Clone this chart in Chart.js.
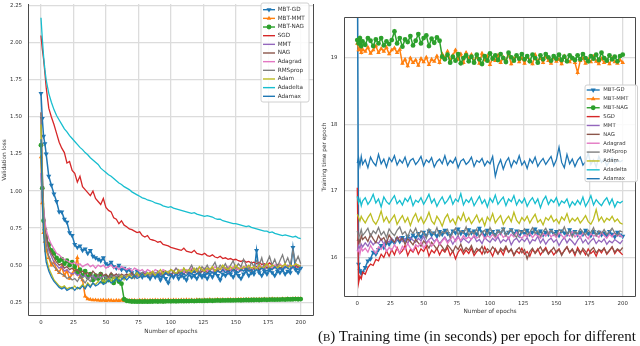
<!DOCTYPE html>
<html><head><meta charset="utf-8">
<script src="https://cdn.jsdelivr.net/npm/chart.js@4.4.1/dist/chart.umd.min.js"></script>
<style>
html,body{margin:0;padding:0;background:#fff;}
#wrap{position:relative;width:640px;height:346px;overflow:hidden;background:#fff;}
#c1{position:absolute;left:0;top:0;width:320px;height:346px;}
#c2{position:absolute;left:320px;top:0;width:320px;height:346px;}
#cap{position:absolute;left:318px;top:329px;font-family:"Liberation Serif",serif;font-size:15px;line-height:15px;white-space:nowrap;color:#111;}
#cap .sc{font-size:11px;}
</style></head><body>
<div id="wrap">
<canvas id="c1" width="320" height="346"></canvas>
<canvas id="c2" width="320" height="346"></canvas>
<div id="cap">(<span class="sc">B</span>) Training time (in seconds) per epoch for different</div>
</div>
<script>
// ---------- data ----------
const epochs = [0,1,2,3,4,6,8,10,12,14,16,18,20,22,24,26,28,30,32,34,36,38,40,42,44,46,48,50,52,54,56,58,60,62,64,66,68,70,72,74,76,78,80,82,84,86,88,90,92,94,96,98,100,102,104,106,108,110,112,114,116,118,120,122,124,126,128,130,132,134,136,138,140,142,144,146,148,150,152,154,156,158,160,162,164,166,168,170,172,174,176,178,180,182,184,186,188,190,192,194,196,198,200];
const seriesNames = ['MBT-GD','MBT-MMT','MBT-NAG','SGD','MMT','NAG','Adagrad','RMSprop','Adam','Adadelta','Adamax'];
const xTickValues = [0,25,50,75,100,125,150,175,200];
const lossTickValues = [0.25,0.5,0.75,1.0,1.25,1.5,1.75,2.0,2.25];
const timeTickValues = [16,17,18,19];

// validation loss (left panel)
const lossMbtGd = [1.66,1.49,1.37,1.32,1.25,
1.10,1.04,0.98,0.93,0.86,0.86,0.81,0.79,0.72,0.70,
0.64,0.62,0.63,0.60,0.61,0.58,0.60,0.56,0.55,0.54,
0.53,0.55,0.51,0.50,0.52,0.49,0.48,0.50,0.47,0.48,
0.46,0.47,0.45,0.43,0.46,0.44,0.42,0.45,0.43,0.41,
0.44,0.42,0.43,0.40,0.43,0.41,0.38,0.43,0.42,0.44,
0.41,0.43,0.42,0.40,0.44,0.42,0.43,0.41,0.44,0.42,
0.43,0.41,0.44,0.42,0.45,0.43,0.40,0.44,0.43,0.45,
0.44,0.42,0.45,0.43,0.41,0.44,0.46,0.43,0.45,0.44,
0.60,0.45,0.43,0.46,0.44,0.47,0.45,0.43,0.46,0.45,
0.47,0.44,0.46,0.45,0.62,0.47,0.45,0.48];
const lossMbtMmt = [1.23,0.92,0.72,0.66,0.60,
0.55,0.50,0.52,0.47,0.45,0.49,0.43,0.46,0.41,0.44,
0.48,0.55,0.42,0.40,0.29,0.272,0.268,0.265,0.265,0.263,
0.262,0.264,0.261,0.263,0.262,0.260,0.262,0.261,0.263,0.260,
0.262,0.261,0.263,0.262,0.260,0.263,0.262,0.264,0.261,0.263,
0.262,0.264,0.263,0.262,0.265,0.263,0.264,0.262,0.265,0.264,
0.263,0.265,0.264,0.266,0.264,0.265,0.263,0.266,0.265,0.264,
0.266,0.265,0.267,0.265,0.266,0.268,0.266,0.267,0.265,0.268,
0.267,0.266,0.268,0.267,0.269,0.267,0.268,0.270,0.268,0.269,
0.268,0.270,0.269,0.271,0.269,0.270,0.272,0.270,0.271,0.270,
0.272,0.271,0.273,0.271,0.272,0.274,0.272,0.273];
const lossMbtNag = [1.31,1.02,0.80,0.74,0.69,
0.64,0.60,0.58,0.55,0.53,0.54,0.51,0.53,0.50,0.52,
0.49,0.45,0.47,0.43,0.46,0.42,0.44,0.40,0.43,0.41,
0.44,0.39,0.42,0.40,0.43,0.38,0.41,0.39,0.375,0.27,
0.260,0.257,0.255,0.255,0.254,0.255,0.254,0.255,0.254,0.255,
0.255,0.256,0.255,0.256,0.255,0.256,0.257,0.256,0.257,0.256,
0.257,0.258,0.257,0.258,0.258,0.259,0.258,0.259,0.260,0.259,
0.260,0.260,0.261,0.260,0.261,0.262,0.261,0.262,0.262,0.263,
0.262,0.263,0.263,0.264,0.263,0.264,0.265,0.264,0.265,0.265,
0.266,0.265,0.266,0.267,0.266,0.267,0.268,0.267,0.268,0.268,
0.269,0.268,0.270,0.269,0.270,0.271,0.270,0.271];
const lossSgd = [2.05,1.96,1.89,1.80,1.70,
1.56,1.50,1.45,1.39,1.33,1.29,1.26,1.19,1.20,1.14,
1.12,1.06,1.10,1.03,1.01,0.99,0.97,1.00,0.95,0.93,
0.91,0.95,0.89,0.87,0.86,0.82,0.81,0.78,0.80,0.77,
0.76,0.745,0.74,0.73,0.72,0.725,0.70,0.69,0.70,0.675,
0.67,0.665,0.655,0.66,0.64,0.635,0.63,0.62,0.615,0.61,
0.605,0.60,0.615,0.595,0.59,0.585,0.60,0.58,0.575,0.57,
0.58,0.565,0.56,0.57,0.555,0.55,0.56,0.545,0.55,0.54,
0.545,0.535,0.54,0.53,0.525,0.535,0.52,0.525,0.515,0.52,
0.51,0.52,0.505,0.51,0.50,0.515,0.50,0.495,0.505,0.50,
0.495,0.50,0.49,0.495,0.485,0.49,0.485,0.49];
const lossMmt = [1.12,0.95,0.82,0.74,0.68,
0.60,0.56,0.52,0.50,0.48,0.49,0.46,0.47,0.45,0.44,
0.45,0.43,0.44,0.42,0.43,0.41,0.42,0.43,0.41,0.42,
0.41,0.43,0.42,0.41,0.43,0.42,0.44,0.42,0.43,0.41,
0.43,0.42,0.44,0.43,0.42,0.44,0.43,0.45,0.43,0.44,
0.43,0.45,0.44,0.43,0.45,0.44,0.46,0.44,0.45,0.43,
0.45,0.44,0.46,0.45,0.44,0.46,0.45,0.47,0.45,0.46,
0.45,0.47,0.46,0.45,0.47,0.46,0.48,0.46,0.47,0.45,
0.47,0.46,0.48,0.47,0.46,0.48,0.47,0.49,0.47,0.48,
0.47,0.49,0.48,0.47,0.49,0.48,0.50,0.48,0.49,0.47,
0.49,0.48,0.50,0.49,0.48,0.50,0.49,0.48];
const lossNag = [1.53,1.15,0.90,0.78,0.70,
0.62,0.58,0.55,0.52,0.50,0.51,0.48,0.49,0.47,0.48,
0.46,0.47,0.45,0.46,0.44,0.45,0.43,0.46,0.44,0.43,
0.45,0.43,0.44,0.42,0.45,0.43,0.44,0.42,0.44,0.43,
0.44,0.43,0.45,0.42,0.44,0.43,0.45,0.44,0.43,0.45,
0.44,0.43,0.45,0.44,0.46,0.44,0.45,0.43,0.46,0.44,
0.45,0.46,0.44,0.46,0.45,0.47,0.45,0.46,0.44,0.46,
0.47,0.45,0.46,0.48,0.46,0.47,0.45,0.47,0.48,0.46,
0.47,0.48,0.46,0.48,0.47,0.49,0.47,0.48,0.46,0.48,
0.49,0.47,0.48,0.50,0.48,0.49,0.47,0.49,0.50,0.48,
0.49,0.50,0.48,0.50,0.49,0.51,0.49,0.50];
const lossAdagrad = [1.12,0.98,0.88,0.80,0.74,
0.68,0.64,0.61,0.58,0.57,0.55,0.54,0.53,0.52,0.51,
0.52,0.50,0.51,0.49,0.50,0.51,0.49,0.50,0.48,0.50,
0.49,0.50,0.48,0.49,0.50,0.48,0.49,0.47,0.49,0.48,
0.47,0.48,0.46,0.48,0.47,0.46,0.47,0.45,0.47,0.46,
0.45,0.47,0.46,0.45,0.47,0.46,0.45,0.47,0.46,0.48,
0.46,0.47,0.45,0.47,0.46,0.48,0.47,0.46,0.48,0.47,
0.48,0.46,0.48,0.47,0.49,0.47,0.48,0.46,0.48,0.49,
0.47,0.49,0.48,0.47,0.49,0.48,0.50,0.48,0.47,0.49,
0.48,0.50,0.49,0.48,0.50,0.49,0.48,0.50,0.49,0.51,
0.49,0.50,0.48,0.50,0.49,0.51,0.50,0.49];
const lossRmsprop = [1.53,1.10,0.85,0.72,0.64,
0.56,0.52,0.49,0.47,0.45,0.44,0.43,0.41,0.42,0.40,
0.41,0.39,0.42,0.40,0.38,0.41,0.39,0.42,0.40,0.43,
0.41,0.39,0.42,0.40,0.43,0.41,0.42,0.44,0.41,0.43,
0.42,0.44,0.43,0.41,0.44,0.42,0.45,0.43,0.44,0.42,
0.45,0.43,0.46,0.44,0.43,0.46,0.44,0.47,0.45,0.48,
0.46,0.44,0.48,0.45,0.47,0.50,0.46,0.48,0.45,0.49,
0.47,0.50,0.46,0.49,0.52,0.47,0.50,0.48,0.51,0.47,
0.50,0.53,0.48,0.51,0.49,0.54,0.50,0.47,0.52,0.49,
0.53,0.50,0.55,0.48,0.52,0.56,0.50,0.54,0.49,0.53,
0.57,0.51,0.55,0.50,0.60,0.52,0.56,0.51];
const lossAdam = [1.45,1.00,0.78,0.62,0.55,
0.48,0.44,0.40,0.38,0.36,0.35,0.36,0.34,0.35,0.34,
0.36,0.34,0.35,0.37,0.35,0.38,0.36,0.38,0.37,0.39,
0.38,0.40,0.38,0.41,0.39,0.42,0.40,0.41,0.43,0.40,
0.42,0.44,0.41,0.43,0.45,0.42,0.44,0.43,0.45,0.44,
0.46,0.43,0.45,0.47,0.44,0.46,0.45,0.47,0.46,0.44,
0.47,0.45,0.48,0.46,0.47,0.45,0.48,0.46,0.49,0.47,
0.46,0.48,0.47,0.49,0.46,0.48,0.47,0.50,0.48,0.47,
0.49,0.47,0.50,0.48,0.47,0.49,0.48,0.50,0.48,0.49,
0.47,0.50,0.48,0.49,0.51,0.48,0.50,0.49,0.48,0.50,
0.49,0.51,0.48,0.50,0.49,0.51,0.50,0.49];
const lossAdadelta = [2.17,2.03,1.91,1.82,1.75,
1.66,1.60,1.55,1.51,1.48,1.45,1.42,1.40,1.375,1.355,
1.335,1.315,1.295,1.28,1.26,1.245,1.225,1.21,1.195,1.18,
1.155,1.14,1.125,1.11,1.10,1.085,1.07,1.055,1.045,1.03,
1.02,1.01,0.995,0.985,0.975,0.965,0.955,0.95,0.94,0.935,
0.93,0.92,0.915,0.91,0.90,0.895,0.89,0.895,0.885,0.88,
0.875,0.87,0.865,0.86,0.855,0.85,0.855,0.845,0.84,0.835,
0.83,0.835,0.83,0.825,0.815,0.81,0.81,0.80,0.795,0.79,
0.785,0.78,0.78,0.775,0.77,0.765,0.76,0.765,0.755,0.75,
0.745,0.74,0.735,0.73,0.73,0.72,0.725,0.715,0.71,0.705,
0.70,0.705,0.70,0.695,0.69,0.695,0.685,0.68];
const lossAdamax = [1.35,0.95,0.72,0.60,0.52,
0.46,0.42,0.39,0.37,0.35,0.34,0.35,0.33,0.34,0.35,
0.33,0.35,0.34,0.36,0.34,0.37,0.35,0.38,0.36,0.37,
0.39,0.37,0.38,0.40,0.38,0.39,0.41,0.39,0.40,0.42,
0.40,0.42,0.41,0.43,0.41,0.42,0.44,0.42,0.43,0.41,
0.43,0.42,0.44,0.42,0.43,0.45,0.43,0.44,0.42,0.44,
0.43,0.45,0.44,0.43,0.45,0.44,0.46,0.44,0.45,0.43,
0.45,0.44,0.46,0.45,0.44,0.46,0.45,0.47,0.45,0.46,
0.45,0.47,0.46,0.45,0.47,0.46,0.48,0.46,0.47,0.45,
0.47,0.46,0.48,0.47,0.46,0.48,0.47,0.49,0.47,0.48,
0.47,0.49,0.48,0.47,0.49,0.48,0.47,0.49];

// training time per epoch (right panel)
const timeMbtGd = [21.0,15.90,15.80,15.76,15.78,
15.85,15.95,15.98,16.08,16.05,16.12,16.18,16.15,16.22,16.20,
16.25,16.22,16.28,16.24,16.30,16.26,16.32,16.28,16.34,16.30,
16.36,16.31,16.38,16.33,16.40,16.34,16.37,16.32,16.39,16.35,
16.41,16.36,16.33,16.40,16.37,16.43,16.36,16.39,16.34,16.42,
16.37,16.40,16.35,16.44,16.38,16.33,16.41,16.36,16.39,16.34,
16.40,16.37,16.43,16.35,16.38,16.42,16.36,16.40,16.33,16.39,
16.36,16.41,16.35,16.38,16.43,16.36,16.40,16.34,16.38,16.35,
16.41,16.36,16.39,16.33,16.40,16.37,16.35,16.42,16.36,16.39,
16.34,16.38,16.35,16.41,16.36,16.33,16.39,16.35,16.38,16.34,
16.37,16.33,16.39,16.35,16.31,16.38,16.34,16.32];
const timeMbtMmt = [19.22,19.12,19.15,19.08,19.13,
19.10,19.16,19.07,19.12,19.18,19.08,19.14,19.10,19.16,19.06,
19.12,19.15,19.08,19.13,18.92,18.98,18.88,19.00,18.93,18.97,
18.89,18.99,18.94,19.01,18.90,18.98,18.95,19.03,18.93,19.06,
19.00,19.10,18.96,19.04,19.12,18.98,19.06,18.93,19.08,18.99,
19.05,18.95,19.02,18.92,19.07,18.97,19.03,18.90,19.00,18.96,
19.04,18.93,19.01,18.96,19.06,18.91,18.99,19.03,18.94,19.00,
18.92,19.02,18.97,18.91,19.05,18.95,19.00,18.93,19.03,18.96,
18.92,19.01,18.95,18.98,18.91,19.03,18.96,18.94,19.00,18.93,
18.78,18.96,19.00,18.92,18.98,18.94,19.02,18.95,18.91,18.99,
18.93,18.97,18.91,19.00,18.94,18.92,18.97,18.93];
const timeMbtNag = [19.27,19.22,19.30,19.18,19.25,
19.20,19.30,19.26,19.18,19.28,19.22,19.30,19.19,19.25,19.21,
19.27,19.40,19.22,19.30,19.17,19.28,19.24,19.33,19.19,19.26,
19.36,19.22,19.30,19.34,19.18,19.29,19.23,19.31,19.26,19.02,
18.98,19.05,18.93,19.02,18.96,19.06,18.92,19.00,19.04,18.95,
19.02,18.93,19.05,18.98,18.91,19.03,18.96,19.07,18.99,19.04,
18.97,19.06,19.00,18.94,19.08,19.01,18.96,19.04,18.99,19.06,
18.98,19.03,18.95,19.05,19.00,18.93,19.04,18.98,19.06,19.01,
18.96,19.03,18.99,19.05,18.97,19.02,18.95,19.04,19.00,18.97,
19.04,18.98,19.06,19.00,18.95,19.03,18.99,19.05,18.97,19.08,
19.00,18.96,19.04,18.98,19.02,18.95,19.03,19.05];
const timeSgd = [17.05,15.62,15.72,15.68,15.78,
15.75,15.85,15.90,15.88,15.97,15.95,16.05,16.00,16.10,16.02,
16.12,16.04,16.15,16.06,16.10,16.18,16.03,16.12,16.08,16.16,
16.05,16.13,16.09,16.17,16.02,16.11,16.07,16.14,16.04,16.12,
16.08,16.15,16.03,16.10,15.98,16.08,16.13,16.05,16.11,16.06,
16.14,16.03,16.09,16.12,16.05,16.16,16.07,16.10,16.02,16.13,
16.06,16.11,16.04,16.15,16.08,16.12,16.03,16.10,16.06,16.14,
16.05,16.09,16.02,16.12,16.07,16.13,16.04,16.10,16.15,16.06,
16.11,16.04,16.09,16.13,16.05,16.10,16.16,16.07,16.12,16.03,
16.15,16.08,16.11,16.04,16.13,16.06,16.10,16.02,16.12,16.07,
16.14,16.05,16.10,16.16,16.06,16.12,16.08,16.04];
const timeMmt = [16.10,16.18,16.14,16.20,16.16,
16.22,16.17,16.25,16.19,16.24,16.21,16.28,16.20,16.26,16.23,
16.29,16.22,16.27,16.31,16.24,16.28,16.21,16.30,16.26,16.23,
16.29,16.25,16.32,16.22,16.27,16.30,16.24,16.28,16.21,16.26,
16.31,16.24,16.28,16.20,16.27,16.33,16.23,16.29,16.25,16.22,
16.28,16.32,16.24,16.27,16.21,16.30,16.26,16.23,16.29,16.25,
16.31,16.22,16.27,16.24,16.30,16.19,16.26,16.29,16.23,16.28,
16.24,16.30,16.21,16.27,16.25,16.32,16.22,16.28,16.20,16.26,
16.29,16.23,16.27,16.18,16.25,16.30,16.22,16.28,16.24,16.19,
16.26,16.31,16.22,16.27,16.20,16.25,16.29,16.21,16.26,16.23,
16.28,16.20,16.25,16.22,16.27,16.24,16.21,16.26];
const timeNag = [16.25,16.30,16.22,16.33,16.27,
16.31,16.24,16.35,16.28,16.22,16.33,16.26,16.30,16.21,16.34,
16.27,16.23,16.31,16.25,16.29,16.20,16.28,16.24,16.19,16.27,
16.22,16.17,16.25,16.20,16.14,16.23,16.18,16.12,16.21,16.16,
16.10,16.19,16.14,16.08,16.17,16.12,16.20,16.09,16.15,16.11,
16.18,16.07,16.14,16.10,16.17,16.06,16.13,16.09,16.16,16.11,
16.05,16.14,16.10,16.17,16.08,16.13,16.04,16.11,16.15,16.07,
16.12,15.98,16.09,16.14,16.06,16.11,16.16,16.08,16.13,16.05,
16.10,16.15,16.07,16.12,16.03,16.11,16.16,16.08,16.13,16.06,
16.12,16.05,16.14,16.09,16.02,16.11,16.15,16.07,16.12,16.10,
16.14,16.06,16.11,16.16,16.08,16.13,16.10,16.15];
const timeAdagrad = [16.08,16.12,16.05,16.15,16.10,
16.14,16.08,16.18,16.11,16.06,16.16,16.12,16.20,16.09,16.15,
16.11,16.19,16.13,16.07,16.17,16.12,16.21,16.14,16.10,16.19,
16.16,16.23,16.14,16.20,16.25,16.17,16.22,16.28,16.19,16.25,
16.29,16.21,16.27,16.32,16.24,16.30,16.26,16.33,16.28,16.31,
16.27,16.34,16.29,16.32,16.36,16.28,16.33,16.30,16.35,16.29,
16.33,16.37,16.30,16.34,16.28,16.35,16.31,16.38,16.32,16.29,
16.34,16.31,16.37,16.30,16.35,16.33,16.29,16.36,16.32,16.38,
16.31,16.35,16.30,16.37,16.33,16.29,16.36,16.32,16.39,16.31,
16.35,16.30,16.37,16.33,16.28,16.36,16.32,16.34,16.30,16.38,
16.33,16.29,16.35,16.31,16.37,16.32,16.34,16.30];
const timeRmsprop = [16.40,16.30,16.35,16.42,16.33,
16.38,16.44,16.32,16.40,16.36,16.45,16.34,16.39,16.30,16.43,
16.37,16.33,16.41,16.46,16.35,16.39,16.31,16.42,16.36,16.44,
16.33,16.40,16.37,16.29,16.43,16.38,16.35,16.45,16.32,16.39,
16.36,16.42,16.30,16.38,16.44,16.34,16.40,16.37,16.46,16.33,
16.39,16.35,16.43,16.31,16.38,16.41,16.34,16.45,16.37,16.32,
16.40,16.36,16.44,16.33,16.39,16.42,16.35,16.30,16.41,16.37,
16.43,16.34,16.38,16.45,16.36,16.40,16.32,16.39,16.44,16.35,
16.41,16.37,16.33,16.42,16.38,16.46,16.35,16.40,16.31,16.39,
16.36,16.43,16.38,16.34,16.41,16.37,16.45,16.33,16.40,16.36,
16.42,16.35,16.39,16.44,16.37,16.33,16.40,16.38];
const timeAdam = [16.65,16.60,16.55,16.62,16.58,
16.52,16.60,16.66,16.55,16.50,16.58,16.70,16.54,16.61,16.52,
16.58,16.64,16.50,16.57,16.63,16.53,16.60,16.48,16.59,16.66,
16.54,16.61,16.51,16.58,16.68,16.55,16.50,16.62,16.56,16.47,
16.59,16.65,16.53,16.58,16.50,16.62,16.56,16.67,16.54,16.60,
16.51,16.57,16.64,16.53,16.59,16.48,16.61,16.55,16.66,16.52,
16.58,16.63,16.50,16.57,16.62,16.54,16.68,16.56,16.51,16.60,
16.55,16.62,16.52,16.59,16.65,16.53,16.57,16.49,16.60,16.56,
16.63,16.54,16.58,16.51,16.61,16.56,16.66,16.53,16.59,16.55,
16.60,16.52,16.57,16.63,16.54,16.50,16.58,16.72,16.55,16.61,
16.53,16.59,16.56,16.62,16.54,16.58,16.52,16.50];
const timeAdadelta = [16.92,16.82,16.88,16.78,16.85,
16.90,16.80,16.86,16.95,16.82,16.88,16.76,16.91,16.84,16.80,
16.87,16.93,16.81,16.86,16.79,16.89,16.84,16.92,16.78,16.86,
16.83,16.90,16.80,16.87,16.95,16.82,16.88,16.77,16.85,16.91,
16.81,16.86,16.93,16.80,16.88,16.84,16.96,16.79,16.87,16.83,
16.90,16.78,16.85,16.92,16.81,16.87,16.76,16.89,16.83,16.94,
16.80,16.86,16.91,16.78,16.88,16.84,16.93,16.79,16.87,16.82,
16.89,16.77,16.85,16.90,16.81,16.88,16.75,16.86,16.92,16.80,
16.87,16.83,16.90,16.78,16.85,16.82,16.88,16.76,16.84,16.79,
16.86,16.80,16.91,16.77,16.84,16.93,16.79,16.87,16.82,16.78,
16.85,16.90,16.80,16.88,16.76,16.84,16.82,16.85];
const timeAdamax = [17.42,17.50,17.38,17.52,17.40,
17.47,17.35,17.51,17.43,17.38,17.55,17.41,17.48,17.36,17.50,
17.44,17.53,17.39,17.47,17.42,17.51,17.37,17.46,17.49,17.40,
17.45,17.52,17.38,17.47,17.43,17.50,17.36,17.44,17.48,17.41,
17.53,17.39,17.46,17.42,17.50,17.35,17.45,17.48,17.40,17.44,
17.51,17.37,17.46,17.43,17.49,17.38,17.45,17.41,17.52,17.22,
17.38,17.47,17.33,17.44,17.50,17.36,17.46,17.41,17.53,17.39,
17.45,17.34,17.48,17.42,17.51,17.37,17.44,17.49,17.40,17.46,
17.52,17.38,17.47,17.66,17.43,17.35,17.55,17.41,17.48,17.37,
17.46,17.51,17.39,17.44,17.57,17.40,17.47,17.36,17.52,17.43,
17.48,17.38,17.45,17.50,17.42,17.47,17.44,17.46];

const lossSeries = [lossMbtGd,lossMbtMmt,lossMbtNag,lossSgd,lossMmt,lossNag,lossAdagrad,lossRmsprop,lossAdam,lossAdadelta,lossAdamax];
const timeSeries = [timeMbtGd,timeMbtMmt,timeMbtNag,timeSgd,timeMmt,timeNag,timeAdagrad,timeRmsprop,timeAdam,timeAdadelta,timeAdamax];

// ---------- styling ----------
const seriesColors = ['#1f77b4','#ff7f0e','#2ca02c','#d62728','#9467bd','#8c564b','#e377c2','#7f7f7f','#bcbd22','#17becf','#1f77b4'];
const markerStyles = [{s:'triangle',rot:180,r:2.9},{s:'triangle',rot:0,r:2.6},{s:'circle',rot:0,r:2.4},null,null,null,null,null,null,null,null];
const FONT = "'DejaVu Sans', sans-serif";

function drawMarker(ctx, m, x, y){
  ctx.beginPath();
  if (m.s === 'circle') { ctx.arc(x, y, m.r, 0, Math.PI*2); }
  else {
    const a0 = m.rot ? Math.PI/2 : -Math.PI/2;
    for (let k=0;k<3;k++){ const a=a0+k*2*Math.PI/3; const px=x+m.r*Math.cos(a), py=y+m.r*Math.sin(a); if(k) ctx.lineTo(px,py); else ctx.moveTo(px,py);} 
    ctx.closePath();
  }
  ctx.fill();
}

const framePlugin = {
  id: 'frame',
  afterDatasetsDraw(chart, args, o) {
    const {ctx, chartArea: a} = chart;
    const L = Math.round(a.left)+0.5, R = Math.round(a.right)-0.5, T = Math.round(a.top)+0.5, B = Math.round(a.bottom)-0.5;
    ctx.save(); ctx.strokeStyle = o.color; ctx.lineWidth = 1;
    ctx.beginPath();
    ctx.moveTo(L, o.top ? T : a.top); ctx.lineTo(L, B); ctx.lineTo(R, B); ctx.lineTo(R, o.top ? T : a.top);
    if (o.top) { ctx.moveTo(L, T); ctx.lineTo(R, T); }
    ctx.stroke(); ctx.restore();
  }
};

const legendPlugin = {
  id: 'boxLegend',
  afterDraw(chart, args, o) {
    const ctx = chart.ctx;
    ctx.save();
    const rr = 2;
    ctx.beginPath();
    ctx.moveTo(o.x+rr, o.y); ctx.lineTo(o.x+o.w-rr, o.y); ctx.quadraticCurveTo(o.x+o.w, o.y, o.x+o.w, o.y+rr);
    ctx.lineTo(o.x+o.w, o.y+o.h-rr); ctx.quadraticCurveTo(o.x+o.w, o.y+o.h, o.x+o.w-rr, o.y+o.h);
    ctx.lineTo(o.x+rr, o.y+o.h); ctx.quadraticCurveTo(o.x, o.y+o.h, o.x, o.y+o.h-rr);
    ctx.lineTo(o.x, o.y+rr); ctx.quadraticCurveTo(o.x, o.y, o.x+rr, o.y);
    ctx.closePath();
    ctx.fillStyle = 'rgba(255,255,255,0.85)'; ctx.fill();
    ctx.strokeStyle = '#d0d0d0'; ctx.lineWidth = 1; ctx.stroke();
    ctx.font = o.fontSize + 'px ' + FONT;
    ctx.textBaseline = 'middle'; ctx.textAlign = 'left';
    seriesNames.forEach((name, i) => {
      const cy = o.firstY + i*o.rowH;
      ctx.strokeStyle = seriesColors[i]; ctx.lineWidth = 1.4;
      ctx.beginPath(); ctx.moveTo(o.hx, cy); ctx.lineTo(o.hx+o.hl, cy); ctx.stroke();
      if (markerStyles[i]) { ctx.fillStyle = seriesColors[i]; drawMarker(ctx, markerStyles[i], o.hx+o.hl/2, cy); }
      ctx.fillStyle = '#333'; ctx.fillText(name, o.tx, cy);
    });
    ctx.restore();
  }
};

function buildDatasets(series) {
  return seriesNames.map((name, i) => {
    const m = markerStyles[i];
    return {
      label: name,
      data: epochs.map((e, k) => ({x: e, y: series[i][k]})),
      borderColor: seriesColors[i],
      backgroundColor: seriesColors[i],
      borderWidth: m ? 1.5 : 1.3,
      pointRadius: m ? m.r : 0,
      pointStyle: m ? m.s : 'circle',
      rotation: m ? m.rot : 0,
      pointBorderWidth: 0,
      pointBackgroundColor: seriesColors[i],
      pointBorderColor: seriesColors[i],
      tension: 0,
      order: -i
    };
  });
}

function makeChart(id, series, c) {
  const gridCfg = {color: '#dcdcdc', lineWidth: 1.3, drawTicks: false};
  return new Chart(document.getElementById(id), {
    type: 'line',
    data: {datasets: buildDatasets(series)},
    options: {
      responsive: false, animation: false, devicePixelRatio: 1,
      events: [],
      layout: {padding: c.padding},
      plugins: {legend: {display: false}, tooltip: {enabled: false}, boxLegend: c.legend, frame: c.frame},
      scales: {
        x: {
          type: 'linear', min: -10, max: 210,
          afterBuildTicks: s => { s.ticks = xTickValues.map(v => ({value: v})); },
          afterFit: s => { s.height = c.xH; s.paddingLeft = 0; s.paddingRight = 0; },
          grid: gridCfg, border: {display: false},
          ticks: {font: {family: FONT, size: c.tickSize}, color: '#333', padding: c.xTickPad, maxRotation: 0, autoSkip: false, callback: v => String(v)},
          title: {display: true, text: 'Number of epochs', font: {family: FONT, size: 5.8}, color: '#333', padding: {top: 0, bottom: c.xTitlePad}}
        },
        y: {
          type: 'linear', min: c.yMin, max: c.yMax,
          afterBuildTicks: s => { s.ticks = c.yTicks.map(v => ({value: v})); },
          afterFit: s => { s.width = c.yW; s.paddingTop = 0; s.paddingBottom = 0; },
          grid: gridCfg, border: {display: false},
          ticks: {font: {family: FONT, size: c.tickSize}, color: '#333', padding: c.yTickPad, autoSkip: false, callback: c.yFmt},
          title: {display: true, text: c.yTitle, font: {family: FONT, size: 5.8}, color: '#333', padding: {top: c.yTitlePad, bottom: 0}}
        }
      }
    },
    plugins: [framePlugin, legendPlugin]
  });
}

makeChart('c1', lossSeries, {
  padding: {left: 0, top: 0, right: 6.3, bottom: 0},
  xH: 30, yW: 28, tickSize: 5.4, xTickPad: 3.7, yTickPad: 6, xTitlePad: 11.5, yTitlePad: 1,
  yMin: 0.157, yMax: 2.263, yTicks: lossTickValues, yFmt: v => Number(v).toFixed(2), yTitle: 'Validation loss',
  frame: {color: '#4a4a4a', top: false},
  legend: {x: 261, y: 3, w: 48, h: 99, hx: 263, hl: 12, tx: 277.7, firstY: 9.7, rowH: 8.66, fontSize: 5.7}
});

makeChart('c2', timeSeries, {
  padding: {left: 0, top: 17, right: 2, bottom: 26},
  xH: 23, yW: 24, tickSize: 5.4, xTickPad: 3.7, yTickPad: 6.5, xTitlePad: 4.8, yTitlePad: 1.5,
  yMin: 15.406, yMax: 19.617, yTicks: timeTickValues, yFmt: v => String(v), yTitle: 'Training time per epoch',
  frame: {color: '#4a4a4a', top: true},
  legend: {x: 265, y: 85, w: 52.5, h: 96.7, hx: 266.7, hl: 13, tx: 283.3, firstY: 90, rowH: 8.87, fontSize: 5.3}
});
</script>
</body></html>
